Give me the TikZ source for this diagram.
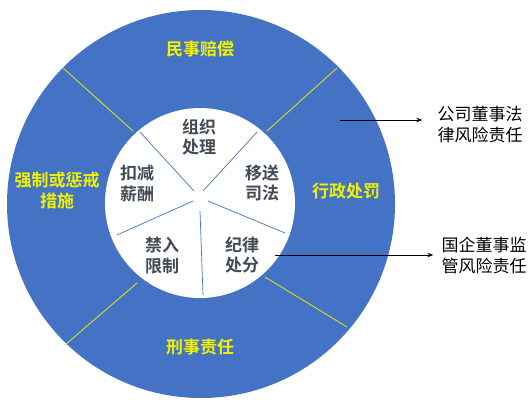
\documentclass[tikz,border=0pt]{standalone}
\usepackage{fontspec}
\newfontfamily\cjk{Noto Sans CJK SC}
\newfontfamily\cjkb{Noto Sans CJK SC Bold}
\usetikzlibrary{arrows.meta}
\definecolor{ringblue}{HTML}{4472C4}
\definecolor{ytext}{HTML}{F2F200}
\definecolor{yline}{HTML}{D9E021}
\definecolor{gtext}{HTML}{414A55}
\tikzset{
  outerlbl/.style={text=ytext, font=\cjkb\fontsize{17}{21}\selectfont, align=center, inner sep=0pt},
  innerlbl/.style={text=gtext, font=\cjkb\fontsize{17}{20.5}\selectfont, align=center, inner sep=0pt},
  sidelbl/.style={text=black, font=\cjk\fontsize{17}{21}\selectfont, align=center, inner sep=0pt},
  yeldiv/.style={draw=yline, line width=0.9pt},
  bludiv/.style={draw=ringblue, line width=0.7pt},
  pointer/.style={draw=black, line width=0.8pt, -{Stealth[length=6pt,width=4.5pt]}}
}
\begin{document}
\begin{tikzpicture}[x=1pt,y=-1pt]
\useasboundingbox (0,0) rectangle (532,405);
\fill[white] (0,0) rectangle (532,405);
% ring
\fill[ringblue] (201,204) circle[radius=194];
\fill[white] (200,203) circle[radius=95];
% yellow dividers
\draw[yeldiv] (133,131) -- (63,68);
\draw[yeldiv] (267,131) -- (337,68);
\draw[yeldiv] (137,283) -- (65,345);
\draw[yeldiv] (265,277) -- (347,327);
% blue inner dividers
\draw[bludiv] (140,132) -- (194,191);
\draw[bludiv] (257,132) -- (203,191);
\draw[bludiv] (193,201) -- (117,235);
\draw[bludiv] (200,211) -- (203,295);
\draw[bludiv] (208,201) -- (285,233);
% outer labels
\node[outerlbl] (civil) at (200,49) {民事赔偿};
\node[outerlbl] (coerce) at (57,190.5) {强制或惩戒\\措施};
\node[outerlbl] (admin) at (346,191) {行政处罚};
\node[outerlbl] (crime) at (200,347) {刑事责任};
% inner labels
\node[innerlbl] (org) at (199,137) {组织\\处理};
\node[innerlbl] (pay) at (137,183.5) {扣减\\薪酬};
\node[innerlbl] (jud) at (262,183) {移送\\司法};
\node[innerlbl] (ban) at (162,255.5) {禁入\\限制};
\node[innerlbl] (disc) at (242,255) {纪律\\处分};
% side labels
\node[sidelbl] (corp) at (480,124.5) {公司董事法\\律风险责任};
\node[sidelbl] (soe) at (484,255) {国企董事监\\管风险责任};
% arrows
\coordinate (a1) at (340,120);
\coordinate (a2) at (275,255);
\draw[pointer] (a1) -- (a1 -| corp.west) [shorten >=15pt];
\draw[pointer, shorten >=8pt] (a2) -- (a2 -| soe.west);
\end{tikzpicture}
\end{document}
